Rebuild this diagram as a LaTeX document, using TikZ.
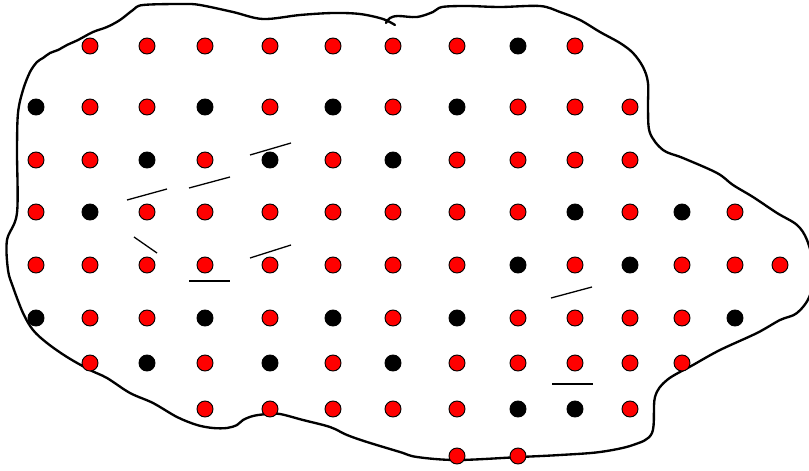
\documentclass[tikz,border=0pt]{standalone}
\usetikzlibrary{positioning}
\definecolor{dotr}{HTML}{FF0000}
\definecolor{dotb}{HTML}{000000}
\tikzset{
  every picture/.style={x=0.03cm, y=-0.03cm},
  dot/.style={circle, draw=black, fill=dot#1, line width=0.8pt, minimum size=0.48cm, inner sep=0pt},
  outline/.style={draw=black, line width=2pt, line join=round, line cap=round},
  tick/.style={draw=black, line width=1.1pt},
  bar/.style={draw=black, line width=2.3pt},
}
\begin{document}
\begin{tikzpicture}
  \clip (0,0) rectangle (809,470);
  \draw[outline] plot[smooth, tension=0.55] coordinates {
    (386,23) (390,18) (398,16) (417,17) (433,12) (442,7) (467,6) (500,7) (540,6)
    (560,12) (580,20) (600,32) (620,43) (633,53) (643,67) (648,83) (648,110)
    (650,133) (663,150) (683,158) (717,173) (733,185) (753,197) (777,213)
    (797,225) (807,240) (813,265) (810,295) (797,313) (780,320) (757,333)
    (720,350) (693,365) (667,380) (655,397) (652,433) (633,445) (600,452)
    (560,455) (520,457) (457,460) (417,457) (400,452) (367,442) (347,435)
    (330,427) (303,420) (280,414) (267,414) (253,416) (243,420) (237,425)
    (227,428) (213,428) (197,425) (177,417) (153,403) (130,393) (107,378)
    (90,370) (67,357) (47,343) (33,330) (23,313) (13,287) (8,270) (7,240)
    (17,213) (17,150) (18,113) (23,90) (30,72) (37,62) (43,58) (50,53) (58,50)
    (67,45) (78,40) (93,32) (107,27) (120,20) (133,10) (143,5) (183,4) (200,5)
    (233,12) (263,19) (300,15) (333,13) (360,14) (383,19) (395,25)};
  \foreach \y/\row in {
    46/{90/r,147/r,205/r,270/r,333/r,393/r,457/r,518/b,575/r},
    107/{36/b,90/r,147/r,205/b,270/r,333/b,393/r,457/b,518/r,575/r,630/r},
    160/{36/r,90/r,147/b,205/r,270/b,333/r,393/b,457/r,518/r,575/r,630/r},
    212/{36/r,90/b,147/r,205/r,270/r,333/r,393/r,457/r,518/r,575/b,630/r,682/b,735/r},
    265/{36/r,90/r,147/r,205/r,270/r,333/r,393/r,457/r,518/b,575/r,630/b,682/r,735/r,780/r},
    318/{36/b,90/r,147/r,205/b,270/r,333/b,393/r,457/b,518/r,575/r,630/r,682/r,735/b},
    363/{90/r,147/b,205/r,270/b,333/r,393/b,457/r,518/r,575/r,630/r,682/r},
    409/{205/r,270/r,333/r,393/r,457/r,518/b,575/b,630/r},
    456/{457/r,518/r}}
    \foreach \x/\c in \row
      \node[dot=\c] (d-\x-\y) at (\x,\y) {};
  \draw[tick] (250,155) -- (291,143);
  \draw[tick] (127,200) -- (167,189);
  \draw[tick] (189,188) -- (230,177);
  \draw[tick] (134,237) -- (157,253);
  \draw[tick] (250,258) -- (291,245);
  \draw[tick] (551,298) -- (592,287);
  \draw[tick] (552,384) -- (593,384);
  \draw[bar] (189,281) -- (230,281);
\end{tikzpicture}
\end{document}
